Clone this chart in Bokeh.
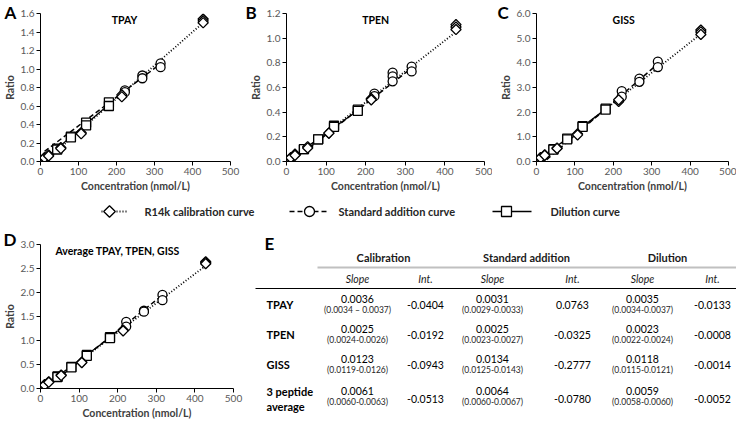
import math
from bokeh.plotting import figure
from bokeh.layouts import column, row
from bokeh.models import Range1d, FixedTicker, NumeralTickFormatter, Label, Title
from bokeh.core.properties import value
from bokeh.embed import file_html
from bokeh.resources import INLINE

FONT = "Lato"
TICK_COLOR = "#595959"
LABEL_COLOR = "#404040"

# ---------------- data ----------------
cal_x = [10.7, 21.4, 53.5, 107, 214, 428]
sa_x = [222, 268, 316]
dil_x = [44, 80, 120, 180]

tpay_cal = [[0.04, 0.04], [0.07, 0.06], [0.15, 0.14], [0.31, 0.30], [0.72, 0.70], [1.54, 1.52, 1.50]]
tpay_sa = [[0.77, 0.75], [0.93, 0.90], [1.06, 1.02]]
tpay_dil = [[0.14, 0.13], [0.27, 0.26], [0.42, 0.39], [0.64, 0.60]]

tpen_cal = [[0.03, 0.03], [0.06, 0.05], [0.12, 0.11], [0.23, 0.23], [0.51, 0.50], [1.11, 1.09, 1.07]]
tpen_sa = [[0.55, 0.53], [0.72, 0.69, 0.65], [0.77, 0.73]]
tpen_dil = [[0.10, 0.10], [0.18, 0.18], [0.29, 0.28], [0.42, 0.41]]

giss_cal = [[0.16, 0.15], [0.27, 0.25], [0.55, 0.53], [1.12, 1.08], [2.43, 2.50], [5.33, 5.25, 5.15]]
giss_sa = [[2.85, 2.63], [3.36, 3.23], [4.05, 3.83]]
giss_dil = [[0.50, 0.48], [0.93, 0.90], [1.43, 1.40], [2.14, 2.10]]

avg_cal = [[0.08, 0.07], [0.14, 0.13], [0.28, 0.27], [0.55, 0.54], [1.22, 1.20], [2.64, 2.62, 2.60]]
avg_sa = [[1.39, 1.29], [1.62, 1.60], [1.95, 1.84]]
avg_dil = [[0.25, 0.24], [0.45, 0.44], [0.70, 0.68], [1.07, 1.05]]

panel_titles = ["TPAY", "TPEN", "GISS", "Average TPAY, TPEN, GISS"]
panel_letters = ["A", "B", "C", "D"]
y_max = [1.6, 1.2, 6.0, 3.0]
y_step = [0.2, 0.2, 1.0, 0.5]
x_ticks = [0, 100, 200, 300, 400, 500]

legend_labels = ["R14k calibration curve", "Standard addition curve", "Dilution curve"]

table_groups = ["Calibration", "Standard addition", "Dilution"]
table_sub = ["Slope", "Int."]
peptides = ["TPAY", "TPEN", "GISS", "3 peptide\naverage"]
cal_slope = ["0.0036", "0.0025", "0.0123", "0.0061"]
cal_ci = ["(0.0034 \u2013 0.0037)", "(0.0024-0.0026)", "(0.0119-0.0126)", "(0.0060-0.0063)"]
cal_int = ["-0.0404", "-0.0192", "-0.0943", "-0.0513"]
sa_slope = ["0.0031", "0.0025", "0.0134", "0.0064"]
sa_ci = ["(0.0029-0.0033)", "(0.0023-0.0027)", "(0.0125-0.0143)", "(0.0060-0.0067)"]
sa_int = ["0.0763", "-0.0325", "-0.2777", "-0.0780"]
dil_slope = ["0.0035", "0.0023", "0.0118", "0.0059"]
dil_ci = ["(0.0034-0.0037)", "(0.0022-0.0024)", "(0.0115-0.0121)", "(0.0058-0.0060)"]
dil_int = ["-0.0133", "-0.0008", "-0.0014", "-0.0052"]

# ---------------- styles ----------------
METHODS = [
    dict(dash="1 2", lw=1.8, marker="square", angle=math.pi / 4, size=7.2),
    dict(dash="5 3", lw=1.5, marker="circle", angle=0.0, size=9),
    dict(dash="solid", lw=1.3, marker="square", angle=0.0, size=9),
]


def no_align(p):
    try:
        p.frame_align = False
    except Exception:
        pass


def flatten(xs, reps):
    X, Y = [], []
    for x, r in zip(xs, reps):
        for v in r:
            X.append(x)
            Y.append(v)
    return X, Y


def make_panel(i, series, width, height, bl, br, bt, bb, title_x, letter_dx, letter_so):
    ymax, ystep = y_max[i], y_step[i]
    p = figure(width=width, height=height, x_range=Range1d(0, 500), y_range=Range1d(0, ymax),
               output_backend="svg", toolbar_location=None,
               min_border_left=bl, min_border_right=br, min_border_top=bt, min_border_bottom=bb)
    p.xgrid.visible = False
    p.ygrid.visible = False
    p.outline_line_color = None
    n = int(round(ymax / ystep))
    p.xaxis.ticker = FixedTicker(ticks=x_ticks)
    p.yaxis.ticker = FixedTicker(ticks=[round(k * ystep, 4) for k in range(n + 1)])
    p.yaxis.formatter = NumeralTickFormatter(format="0.0")
    p.xaxis.axis_label = "Concentration (nmol/L)"
    p.yaxis.axis_label = "Ratio"
    for ax in (p.xaxis[0], p.yaxis[0]):
        ax.axis_line_color = "black"
        ax.axis_line_width = 1
        ax.major_tick_line_color = "black"
        ax.major_tick_in = 0
        ax.major_tick_out = 4
        ax.minor_tick_line_color = None
        ax.major_label_text_font = FONT
        ax.major_label_text_font_size = "10px"
        ax.major_label_text_color = TICK_COLOR
        ax.major_label_standoff = 2
        ax.axis_label_text_font = FONT
        ax.axis_label_text_font_size = "10.5px"
        ax.axis_label_text_font_style = "bold"
        ax.axis_label_text_color = LABEL_COLOR
        ax.axis_label_standoff = 2

    xs_list = [cal_x, sa_x, dil_x]
    slopes = [cal_slope, sa_slope, dil_slope]
    ints = [cal_int, sa_int, dil_int]
    # regression lines from the table's slope / intercept
    for m in range(3):
        b = float(slopes[m][i])
        a = float(ints[m][i])
        xa, xb = cal_x[0], max(xs_list[m])
        st = METHODS[m]
        p.line([xa, xb], [a + b * xa, a + b * xb], line_color="black",
               line_dash=st["dash"], line_width=st["lw"])
    # markers
    for m in (2, 1, 0):
        X, Y = flatten(xs_list[m], series[m])
        st = METHODS[m]
        p.scatter(X, Y, marker=st["marker"], angle=st["angle"], size=st["size"],
                  fill_color="white", line_color="black", line_width=1.3)

    p.add_layout(Label(x=title_x, y=ymax, y_offset=-6, text=panel_titles[i],
                       text_font=FONT, text_font_size="10.5px", text_font_style="bold",
                       text_color="black", text_align="center", text_baseline="middle"))
    p.add_layout(Title(text=panel_letters[i], align="left", offset=letter_dx, standoff=letter_so,
                       vertical_align="bottom", text_font=FONT, text_font_size="17px",
                       text_font_style="bold", text_color="black"), "above")
    return p


H1, HL, H3 = 194, 28, 199
pA = make_panel(0, [tpay_cal, tpay_sa, tpay_dil], 244, H1, 40, 14, 13, 33, 221, -36, -18)
pB = make_panel(1, [tpen_cal, tpen_sa, tpen_dil], 248, H1, 42, 8, 13, 33, 225, -41, -18)
pC = make_panel(2, [giss_cal, giss_sa, giss_dil], 244, H1, 44, 8, 13, 33, 227, -39, -18)
pD = make_panel(3, [avg_cal, avg_sa, avg_dil], 244, H3, 40, 11, 22, 33, 200, -37, -11)

# ---------------- legend strip ----------------
LW = 736
pl = figure(width=LW, height=HL, x_range=Range1d(0, LW), y_range=Range1d(HL, 0),
            x_axis_location=None, y_axis_location=None,
            min_border_left=0, min_border_right=0, min_border_top=0, min_border_bottom=0,
            output_backend="svg", toolbar_location=None)
pl.outline_line_color = None
pl.grid.visible = False
no_align(pl)
leg_pos = [(101, 127, 109, 144), (289, 328, 309, 338), (492, 531, 506, 550)]
ly = 17
for m in range(3):
    g0, g1, gm, tx = leg_pos[m]
    st = METHODS[m]
    pl.line([g0, g1], [ly, ly], line_color="black", line_dash=st["dash"], line_width=st["lw"])
    pl.scatter([gm], [ly], marker=st["marker"], angle=st["angle"], size=st["size"] + 1,
               fill_color="white", line_color="black", line_width=1.3)
    pl.text([tx], [ly], text=[legend_labels[m]], text_font=value(FONT), text_font_size="11px",
            text_font_style="bold", text_color="#262626", text_baseline="middle", text_align="left")

# ---------------- table E ----------------
TW = 492
pt = figure(width=TW, height=H3, x_range=Range1d(0, TW), y_range=Range1d(H3, 0),
            x_axis_location=None, y_axis_location=None,
            min_border_left=0, min_border_right=0, min_border_top=0, min_border_bottom=0,
            output_backend="svg", toolbar_location=None)
pt.outline_line_color = None
pt.grid.visible = False
no_align(pt)
no_align(pD)

def txt(x, y, t, size, style="normal", align="center", color="black"):
    pt.text(x, y, text=t, text_font=value(FONT), text_font_size=size, text_font_style=style,
            text_color=color, text_align=align, text_baseline="middle")

txt([20], [21], ["E"], "17px", "bold", "left")
group_x = [139, 282, 423]
txt(group_x, [35] * 3, table_groups, "11px", "bold", "center", "#1a1a1a")
pt.segment(x0=[73], y0=[45], x1=[TW], y1=[45], line_color="#c0c0c0", line_width=2)
col_x = [113, 181, 248, 328, 398, 468]
txt(col_x, [56] * 6, table_sub * 3, "10.5px", "italic", "center", "#1a1a1a")
pt.segment(x0=[11], y0=[66], x1=[TW], y1=[66], line_color="black", line_width=1)

row_y = [82, 112, 142, 174]
slopes = [cal_slope, sa_slope, dil_slope]
cis = [cal_ci, sa_ci, dil_ci]
ints = [cal_int, sa_int, dil_int]
for r, lab in enumerate(peptides):
    lines = lab.split("\n")
    if len(lines) == 1:
        txt([22], [row_y[r]], lines, "11px", "bold", "left")
        int_dy = 0
    else:
        txt([22, 22], [row_y[r] - 5, row_y[r] + 10], lines, "11px", "bold", "left")
        int_dy = 2
    for m in range(3):
        txt([col_x[2 * m]], [row_y[r] - 6], [slopes[m][r]], "10.5px")
        txt([col_x[2 * m]], [row_y[r] + 5], [cis[m][r]], "8.5px", color="#262626")
        txt([col_x[2 * m + 1]], [row_y[r] + int_dy], [ints[m][r]], "10.5px")

layout = column(row(pA, pB, pC), pl, row(pD, column(pt)))
open("out.html", "w").write(file_html(layout, INLINE))
